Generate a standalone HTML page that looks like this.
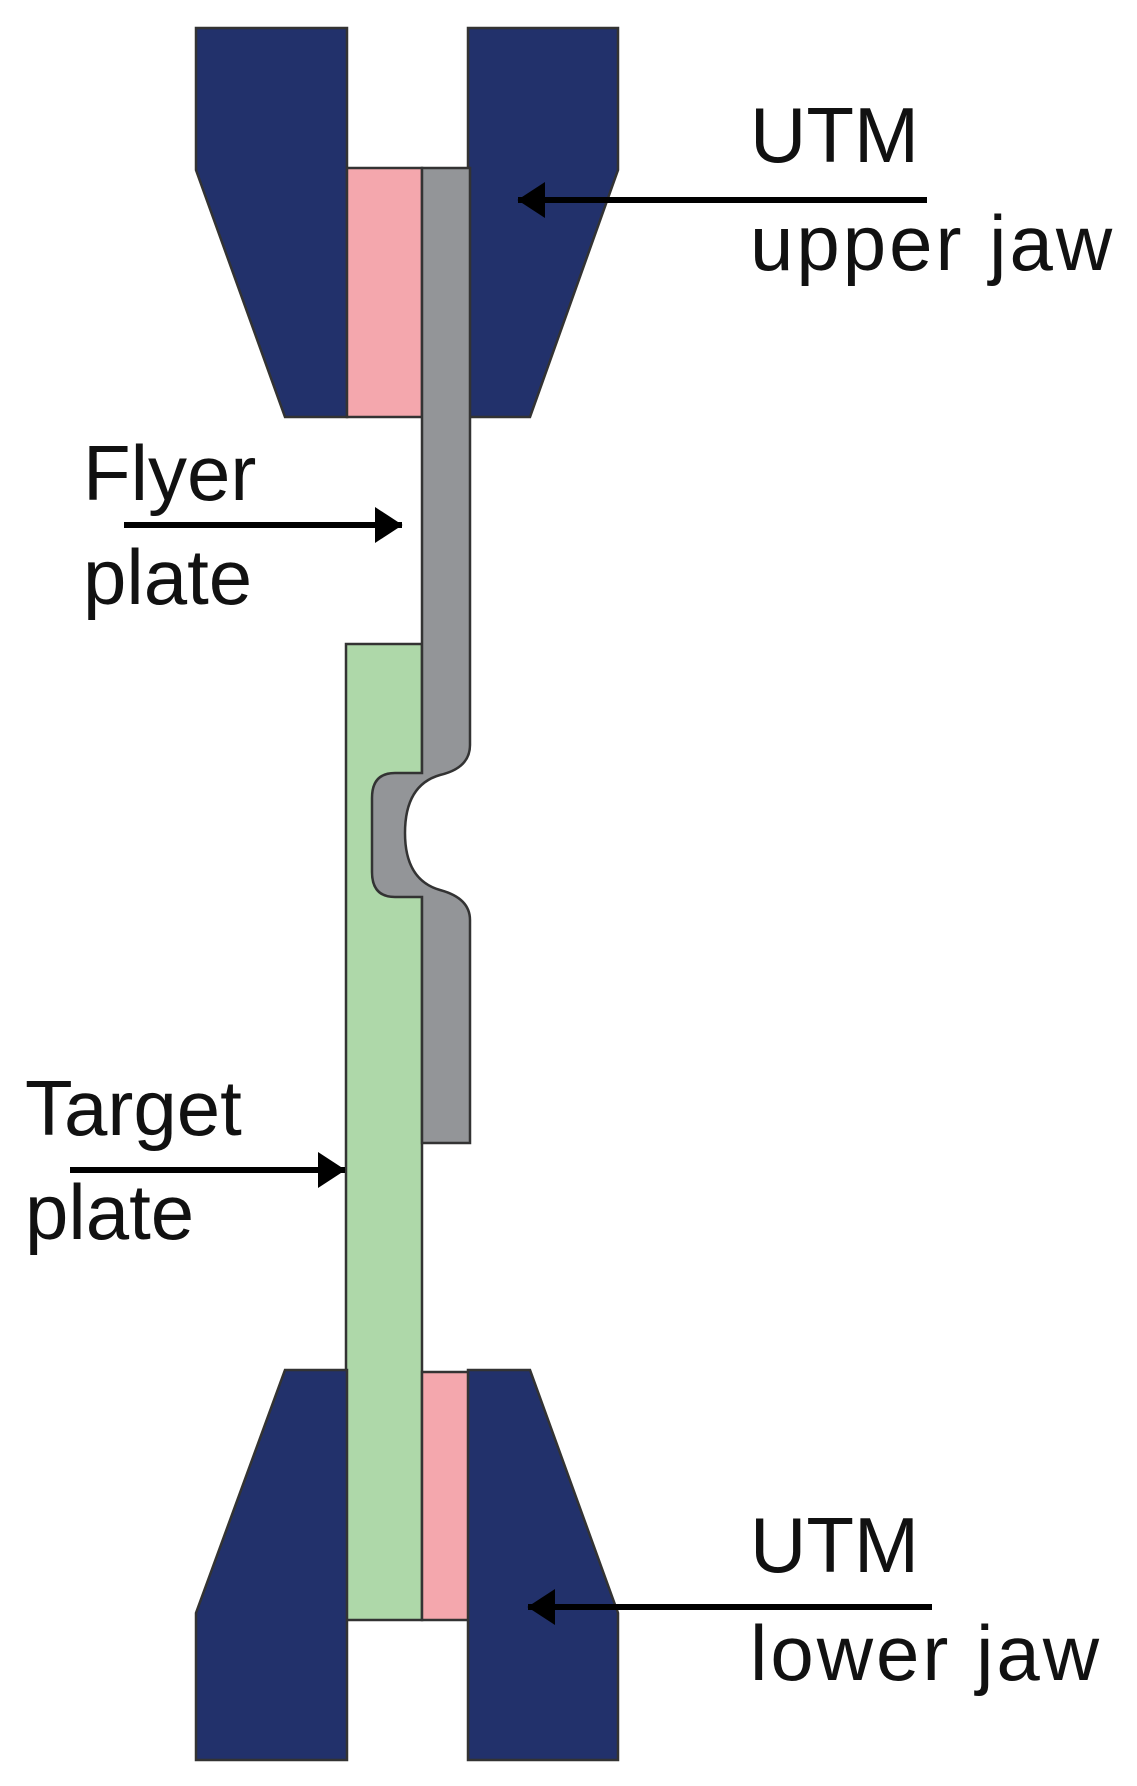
<!DOCTYPE html>
<html><head><meta charset="utf-8"><style>
html,body{margin:0;padding:0;background:#fff}
svg{display:block}
text{font-family:"Liberation Sans",sans-serif;font-size:78px;fill:#111}
</style></head><body>
<svg width="1137" height="1786" viewBox="0 0 1137 1786" xmlns="http://www.w3.org/2000/svg">
<defs>
<marker id="ah" markerWidth="6" markerHeight="6" refX="4.5" refY="3" orient="auto" markerUnits="strokeWidth">
<path d="M0,0 L4.6,3 L0,6 Z" fill="#000"/>
</marker>
</defs>
<g stroke="#333" stroke-width="2.5" stroke-linejoin="miter">
<!-- upper jaw -->
<polygon points="196,28 347,28 347,417 285,417 196,170" fill="#22316B"/>
<polygon points="468,28 618,28 618,170 530,417 468,417" fill="#22316B"/>
<rect x="347" y="168" width="75" height="249" fill="#F4A7AD"/>
<!-- target plate -->
<rect x="346" y="644" width="76" height="976" fill="#AED8A9"/>
<!-- lower pink -->
<rect x="422" y="1372" width="48" height="248" fill="#F4A7AD"/>
</g>
<!-- white hollow in concave region -->
<path d="M440 775 Q405 785 405 833 Q405 880 440 890 L470 890 L470 775 Z" fill="#fff"/>
<g stroke="#333" stroke-width="2.5">
<!-- flyer -->
<path d="M422 168 L470 168 L470 745 Q470 768 440 775 Q405 785 405 833 Q405 880 440 890 Q470 898 470 920 L470 1143 L422 1143 L422 897 L395 897 Q372 897 372 872 L372 798 Q372 773 395 773 L422 773 Z" fill="#939598"/>
<!-- lower jaw -->
<polygon points="285,1370 347,1370 347,1760 196,1760 196,1613" fill="#22316B"/>
<polygon points="468,1370 530,1370 618,1613 618,1760 468,1760" fill="#22316B"/>
</g>
<!-- arrows -->
<g stroke="#000" stroke-width="6" fill="none">
<line x1="927" y1="200" x2="518" y2="200" marker-end="url(#ah)"/>
<line x1="124" y1="525" x2="402" y2="525" marker-end="url(#ah)"/>
<line x1="70" y1="1170" x2="345" y2="1170" marker-end="url(#ah)"/>
<line x1="932" y1="1607" x2="528" y2="1607" marker-end="url(#ah)"/>
</g>
<!-- labels -->
<text x="750" y="162">UTM</text>
<text x="750" y="270" letter-spacing="3">upper jaw</text>
<text x="83" y="500">Flyer</text>
<text x="83" y="604">plate</text>
<text x="25" y="1135">Target</text>
<text x="25" y="1239">plate</text>
<text x="750" y="1572">UTM</text>
<text x="750" y="1680" letter-spacing="3">lower jaw</text>
</svg>
</body></html>
